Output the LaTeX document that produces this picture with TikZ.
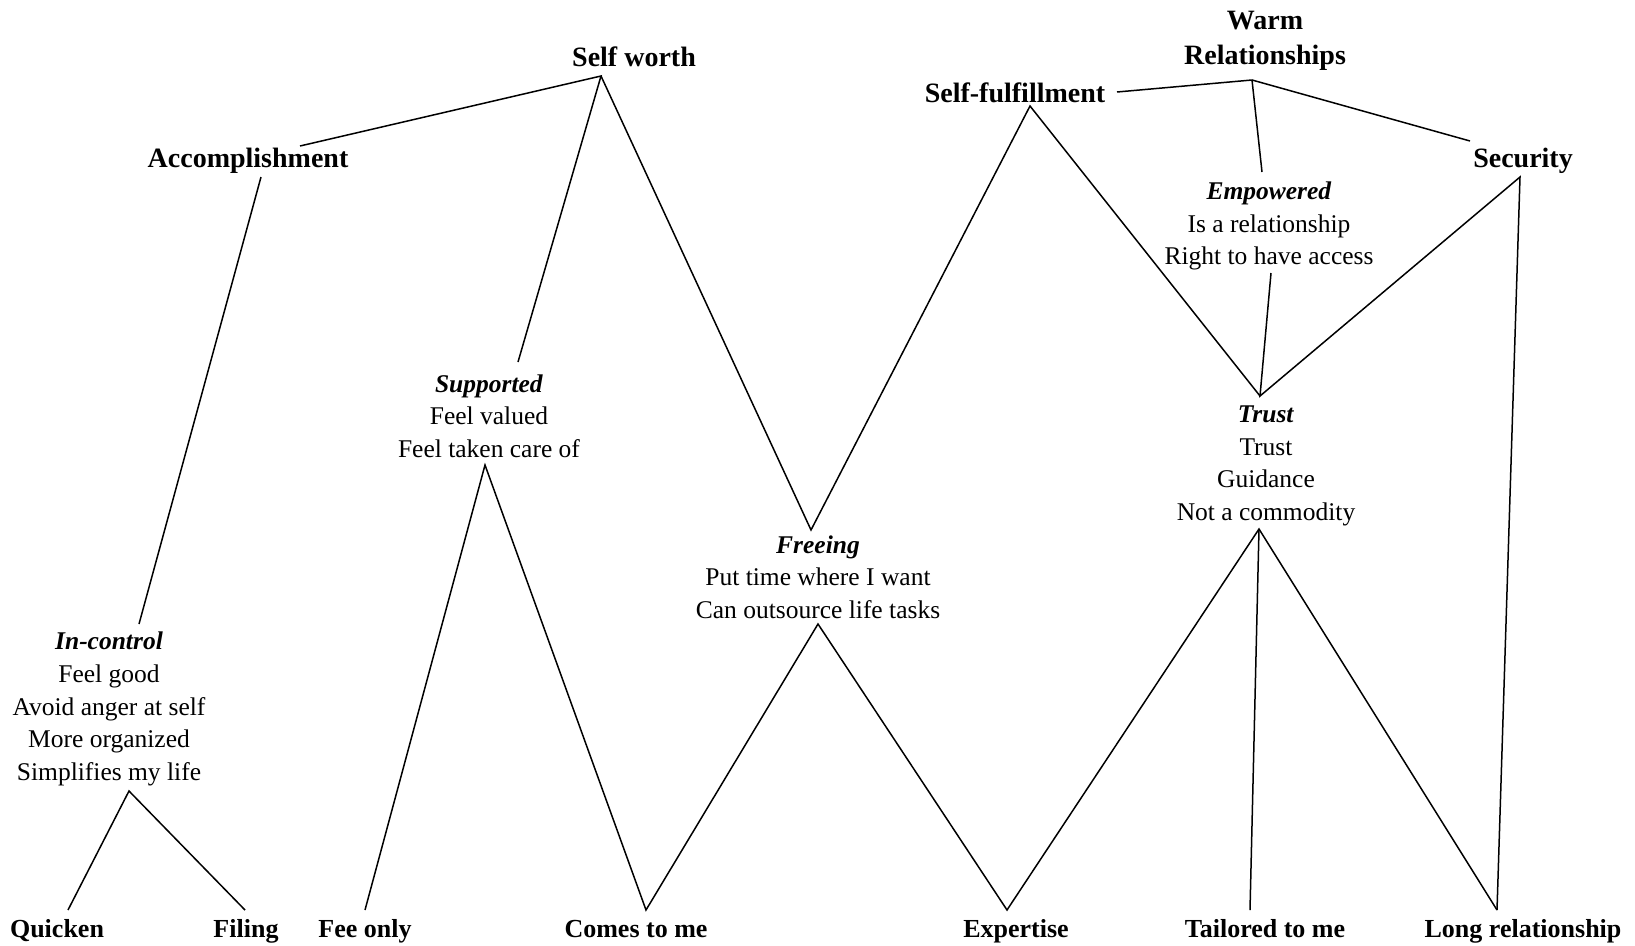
\documentclass[tikz,border=0pt]{standalone}
\usepackage{fontspec}
\setmainfont{Liberation Serif}
\usepackage{tikz}

\begin{document}
\begin{tikzpicture}[x=1pt, y=-1pt, line width=1.5pt,
    txt/.style={inner sep=0pt, align=center, font=\fontsize{25.5}{32.6}\selectfont},
    head/.style={txt, font=\fontsize{28}{35}\selectfont\bfseries},
    attr/.style={inner sep=0pt, anchor=base, font=\fontsize{26}{30}\selectfont\bfseries},
    rung/.style={line width=1.5pt}]
    \useasboundingbox (0,0) rectangle (1635,945);
    % Values
    \node[head] (sw) at (634,57) {Self worth};
    \node[head] (wr) at (1265,41) {Warm\\Relationships};
    \node[head] (sf) at (1015,93) {Self-fulfillment};
    \node[head] (ac) at (248,161) {Accomplishment};
    \node[head] (se) at (1523,161) {Security};
    % Consequences
    \node[txt] (em) at (1269,226) {\textbf{\textit{Empowered}}\\Is a relationship\\Right to have access};
    \node[txt] (su) at (489,416) {\textbf{\textit{Supported}}\\Feel valued\\Feel taken care of};
    \node[txt] (tr) at (1266,466) {\textbf{\textit{Trust}}\\Trust\\Guidance\\Not a commodity};
    \node[txt] (fr) at (818,577) {\textbf{\textit{Freeing}}\\Put time where I want\\Can outsource life tasks};
    \node[txt] (ic) at (109,709) {\textbf{\textit{In-control}}\\Feel good\\Avoid anger at self\\More organized\\Simplifies my life};
    % Attributes
    \node[attr] (qu) at (57,937) {Quicken};
    \node[attr] (fi) at (246,937) {Filing};
    \node[attr] (fo) at (365,937) {Fee only};
    \node[attr] (cm) at (636,937) {Comes to me};
    \node[attr] (ex) at (1016,937) {Expertise};
    \node[attr] (tm) at (1265,937) {Tailored to me};
    \node[attr] (lr) at (1523,937) {Long relationship};
    % junction points
    \coordinate (swB) at (601,76);
    \coordinate (acR) at (300,146);
    \coordinate (acB) at (261,177);
    \coordinate (suT) at (518,362);
    \coordinate (suB) at (485,465);
    \coordinate (frT) at (811,530);
    \coordinate (frB) at (818,624);
    \coordinate (icT) at (139,624);
    \coordinate (icB) at (129,791);
    \coordinate (sfB) at (1030,106);
    \coordinate (sfR) at (1117,92);
    \coordinate (wrB) at (1252,80);
    \coordinate (emT) at (1262,172);
    \coordinate (emB) at (1271,273);
    \coordinate (seL) at (1470,141);
    \coordinate (seB) at (1520,177);
    \coordinate (trT) at (1260,396);
    \coordinate (trB) at (1259,529);
    \coordinate (quT) at (68,910);
    \coordinate (fiT) at (245,910);
    \coordinate (foT) at (365,910);
    \coordinate (cmT) at (646,910);
    \coordinate (exT) at (1007,910);
    \coordinate (tmT) at (1250,910);
    \coordinate (lrT) at (1497,910);
    % ladders
    \draw[rung] (acR) -- (swB) -- (suT);
    \draw[rung] (swB) -- (frT) -- (sfB) -- (trT);
    \draw[rung] (acB) -- (icT);
    \draw[rung] (sfR) -- (wrB) -- (seL);
    \draw[rung] (wrB) -- (emT);
    \draw[rung] (emB) -- (trT) -- (seB) -- (lrT);
    \draw[rung] (quT) -- (icB) -- (fiT);
    \draw[rung] (foT) -- (suB) -- (cmT) -- (frB) -- (exT) -- (trB) -- (lrT);
    \draw[rung] (trB) -- (tmT);
\end{tikzpicture}
\end{document}
